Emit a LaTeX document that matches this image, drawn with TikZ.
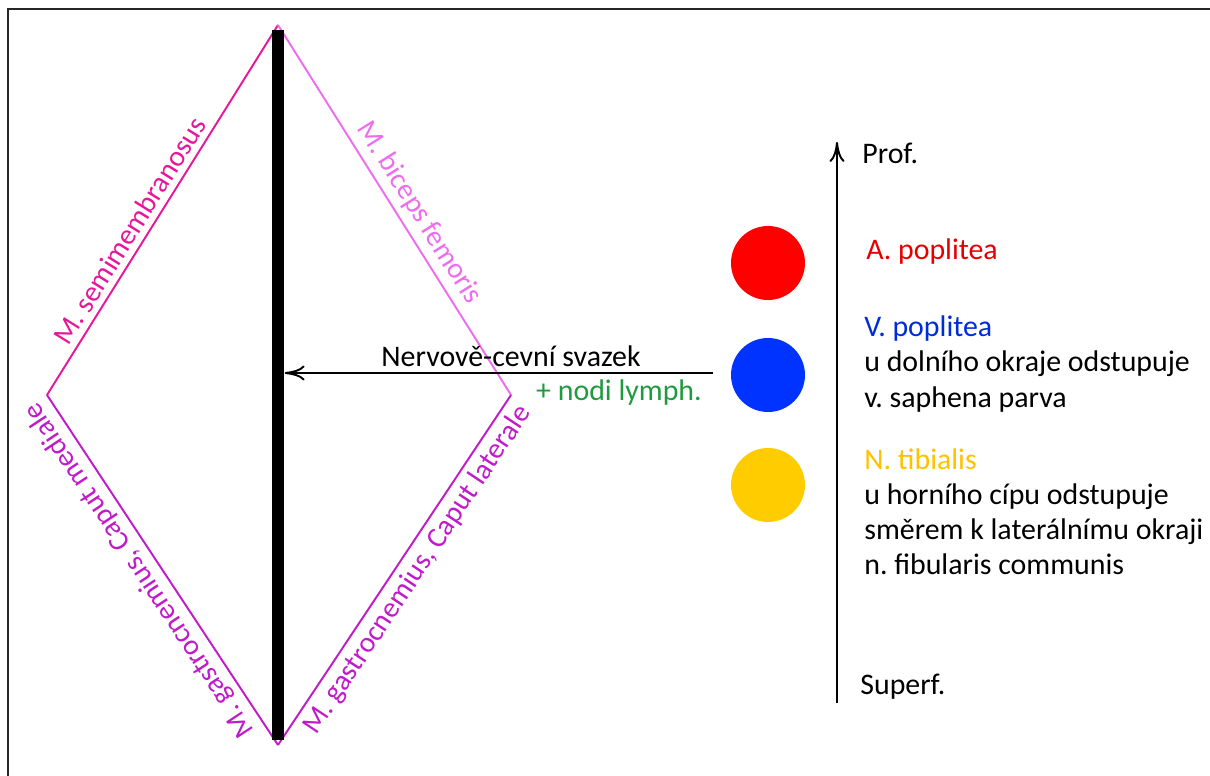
\documentclass[tikz,border=0pt]{standalone}
\usepackage{fontspec}
\setmainfont{Carlito}
\usetikzlibrary{positioning, arrows.meta}
\frenchspacing

\definecolor{semipink}{HTML}{E6179A}
\definecolor{bicviolet}{HTML}{EE6CEE}
\definecolor{gastropurple}{HTML}{C01ACA}
\definecolor{lymphgreen}{HTML}{1F9A3F}
\definecolor{artred}{HTML}{FF0000}
\definecolor{veinblue}{HTML}{0033FF}
\definecolor{nerveyellow}{HTML}{FFCC00}

\tikzset{
  muscle/.style={line width=1.1pt},
  musclelbl/.style={sloped, font=\fontsize{16.5pt}{19pt}\selectfont},
  lbl/.style={font=\fontsize{17pt}{20pt}\selectfont, inner sep=0pt},
  vessel/.style={circle, minimum size=1.48cm, inner sep=0pt},
  axisarrow/.style={-{To[length=0.4cm, width=0.3cm]}, line width=1.1pt}
}

\begin{document}
\begin{tikzpicture}[x=0.02cm, y=-0.02cm]
    \useasboundingbox (0,0) rectangle (1210,776);
    \draw[line width=1pt, black!85] (1210,9) -- (8,9) -- (8,776);

    % Fossa poplitea
    \coordinate (top) at (278,25);
    \coordinate (left) at (47,395);
    \coordinate (right) at (511,395);
    \coordinate (bottom) at (278,745);

    \draw[muscle, semipink] (left) -- node[musclelbl, above, pos=0.42, text=semipink] {M. semimembranosus} (top);
    \draw[muscle, bicviolet] (top) -- node[musclelbl, above, pos=0.535, text=bicviolet] {M. biceps femoris} (right);
    \draw[muscle, gastropurple] (bottom) -- node[musclelbl, allow upside down, above, pos=0.53, text=gastropurple] {M. gastrocnemius, Caput mediale} (left);
    \draw[muscle, gastropurple] (bottom) -- node[musclelbl, below, pos=0.53, text=gastropurple] {M. gastrocnemius, Caput laterale} (right);

    \node[fill=black, minimum width=0.25cm, minimum height=14.2cm, inner sep=0pt] (bar) at (278,385) {};

    % Nervove-cevni svazek
    \coordinate (nvsstart) at (713,373);
    \draw[axisarrow] (nvsstart) -- (bar.east |- nvsstart);
    \node[lbl] (nvs) at (511,356) {Nervově-cevní svazek};
    \node[lbl, text=lymphgreen] (lymph) at (619,393) {+ nodi lymph.};

    % Vessels
    \node[vessel, fill=artred] (art) at (768,263) {};
    \node[vessel, fill=veinblue] (vein) at (768,375) {};
    \node[vessel, fill=nerveyellow] (nerve) at (768,485) {};

    % Depth axis
    \coordinate (superf) at (837,703);
    \coordinate (prof) at (837,142);
    \draw[axisarrow] (superf) -- (prof);
    \node[lbl, anchor=west] (proflbl) at (862,153) {Prof.};
    \node[lbl, anchor=west] (superflbl) at (860,687) {Superf.};

    \node[lbl, anchor=west, text=artred!90!black] (artlbl) at (866,252) {A. poplitea};
    \node[lbl, anchor=west, align=left] (veinlbl) at (864,364) {\textcolor{veinblue!85!black}{V. poplitea}\\u dolního okraje odstupuje\\v. saphena parva};
    \node[lbl, anchor=west, align=left] (nervelbl) at (864,512) {\textcolor{nerveyellow!95!red}{N. tibialis}\\u horního cípu odstupuje\\směrem k laterálnímu okraji\\n. fibularis communis};
\end{tikzpicture}
\end{document}
